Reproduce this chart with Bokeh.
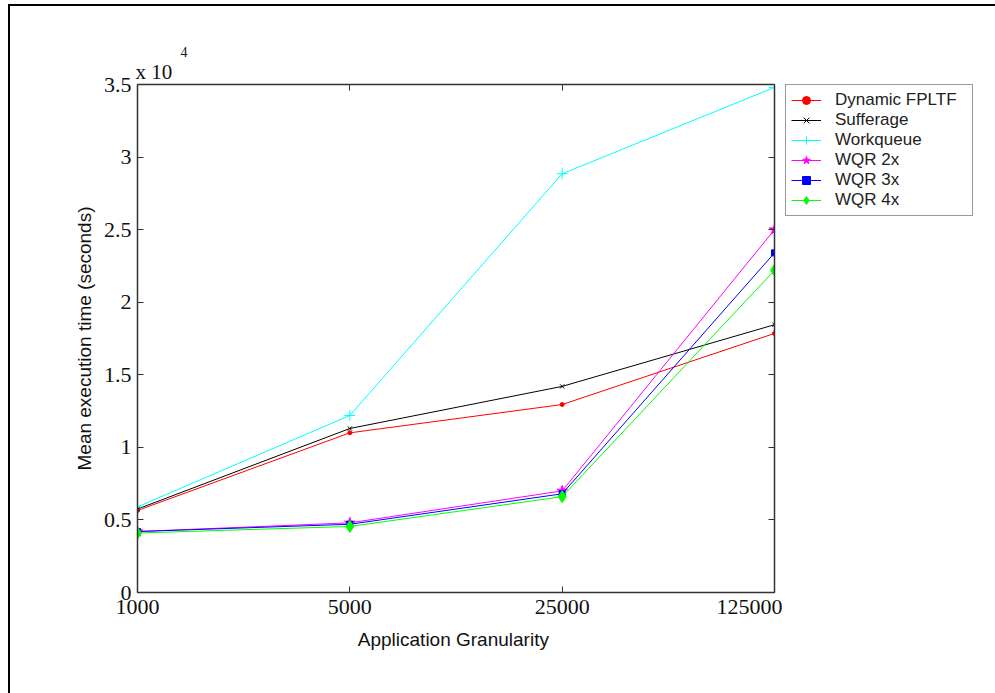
from bokeh.plotting import figure
from bokeh.layouts import row
from bokeh.models import (FixedTicker, LinearAxis, LogAxis, Legend, LegendItem,
                          Title, Range1d, InlineStyleSheet)
from bokeh.embed import file_html
from bokeh.resources import INLINE

granularity = [1000, 5000, 25000, 125000]
x_tick_labels = ["1000", "5000", "25000", "125000"]
y_ticks = [0, 5000, 10000, 15000, 20000, 25000, 30000, 35000]
y_tick_labels = ["0", "0.5", "1", "1.5", "2", "2.5", "3", "3.5"]

dynamic_fpltf = [5650, 11000, 12950, 17850]
sufferage = [5750, 11300, 14200, 18450]
workqueue = [5900, 12200, 28850, 34800]
wqr_2x = [4200, 4800, 7000, 25000]
wqr_3x = [4200, 4700, 6800, 23400]
wqr_4x = [4100, 4550, 6600, 22200]

series_names = ["Dynamic FPLTF", "Sufferage", "Workqueue", "WQR 2x", "WQR 3x", "WQR 4x"]
series_values = [dynamic_fpltf, sufferage, workqueue, wqr_2x, wqr_3x, wqr_4x]
series_colors = ["#ff0000", "#000000", "#00ffff", "#ff00ff", "#0000ff", "#00ff00"]
series_markers = ["circle", "x", "cross", "star", "square", "diamond"]
series_sizes = [4, 6, 11, 11, 6, 12]

SERIF = "Liberation Serif"
SANS = "Liberation Sans"

p = figure(frame_width=637, frame_height=508, x_axis_type="log",
           x_range=Range1d(1000, 125000), y_range=Range1d(0, 35000),
           output_backend="svg", toolbar_location=None,
           min_border_left=137, min_border_right=8,
           min_border_top=84, min_border_bottom=101)
p.background_fill_color = "white"
p.border_fill_color = "white"
p.border_fill_alpha = 0
p.outline_line_color = None
p.xgrid.visible = False
p.ygrid.visible = False
p.stylesheets = [InlineStyleSheet(css=(
    ":host { position: relative; overflow: visible; }"
    ":host::after { content: ''; position: absolute; left: 8px; top: 4px;"
    " width: 990px; height: 700px; border-left: 2px solid black;"
    " border-top: 2px solid black; pointer-events: none; z-index: 5; }"))]

for vals, col, mk, sz in zip(series_values, series_colors, series_markers, series_sizes):
    p.line(granularity, vals, line_color=col, line_width=1)
    p.scatter(granularity, vals, marker=mk, size=sz, line_color=col,
              fill_color=col, line_width=1)


def style_axis(ax, labels=True):
    ax.axis_line_color = "#333333"
    ax.axis_line_width = 1.5
    ax.major_tick_line_color = "#333333"
    ax.major_tick_in = 6
    ax.major_tick_out = 0
    ax.minor_tick_in = 0
    ax.minor_tick_out = 0
    ax.major_label_text_font = SERIF
    ax.major_label_text_font_size = "22px"
    ax.major_label_text_color = "#111111"
    if not labels:
        ax.major_label_text_alpha = 0
        ax.major_label_text_font_size = "1px"


xb = p.xaxis[0]
xb.ticker = FixedTicker(ticks=granularity)
xb.major_label_overrides = {g: s for g, s in zip(granularity, x_tick_labels)}
style_axis(xb)
xb.major_label_standoff = 7
xb.axis_label = "Application  Granularity"
xb.axis_label_text_font = SANS
xb.axis_label_text_font_size = "19px"
xb.axis_label_text_font_style = "normal"
xb.axis_label_text_color = "#111111"
xb.axis_label_standoff = 12

yl = p.yaxis[0]
yl.ticker = FixedTicker(ticks=y_ticks)
yl.major_label_overrides = {t: s for t, s in zip(y_ticks, y_tick_labels)}
style_axis(yl)
yl.major_label_standoff = 6
yl.axis_label = "Mean execution time (seconds)"
yl.axis_label_text_font = SANS
yl.axis_label_text_font_size = "19px"
yl.axis_label_text_font_style = "normal"
yl.axis_label_text_color = "#111111"
yl.axis_label_standoff = 6

top_ax = LogAxis(ticker=FixedTicker(ticks=granularity))
style_axis(top_ax, labels=False)
top_ax.major_label_overrides = {g: " " for g in granularity}
top_ax.major_label_standoff = 0
p.add_layout(top_ax, "above")
right_ax = LinearAxis(ticker=FixedTicker(ticks=y_ticks))
style_axis(right_ax, labels=False)
right_ax.major_label_overrides = {t: " " for t in y_ticks}
right_ax.major_label_standoff = 0
p.add_layout(right_ax, "right")

# exponent label as stacked titles above the frame
t_base = Title(text="x 10", align="left", offset=-2, text_font=SERIF,
               text_font_size="21px", text_font_style="normal",
               text_color="#111111", standoff=2)
t_exp = Title(text="4", align="left", offset=43, text_font=SERIF,
              text_font_size="14px", text_font_style="normal",
              text_color="#111111", standoff=0)
p.add_layout(t_base, "above")
p.add_layout(t_exp, "above")

# legend panel (separate figure, its frame aligned with the axes box);
# its renderers carry the same data, which lies outside this panel's ranges
lf = figure(width=213, height=693, x_range=Range1d(0, 1), y_range=Range1d(0, 1),
            output_backend="svg", toolbar_location=None,
            min_border_left=0, min_border_right=0,
            min_border_top=0, min_border_bottom=0)
lf.axis.visible = False
lf.grid.visible = False
lf.outline_line_color = None
lf.background_fill_alpha = 0
lf.border_fill_alpha = 0

items = []
for name, vals, col, mk, sz in zip(series_names, series_values, series_colors,
                                   series_markers, series_sizes):
    r1 = lf.line(granularity, vals, line_color=col, line_width=1)
    r2 = lf.scatter(granularity, vals, marker=mk, size=sz, line_color=col,
                    fill_color=col, line_width=1)
    items.append(LegendItem(label=name, renderers=[r1, r2]))

legend = Legend(items=items, location=(3, 376), margin=0, padding=5,
                spacing=0, label_height=20, glyph_height=20, glyph_width=30,
                label_standoff=14, label_width=132, label_text_font=SANS,
                label_text_font_size="17px", label_text_color="#222222",
                border_line_color="#333333", border_line_width=1.5,
                background_fill_color="white")
lf.add_layout(legend, "center")

layout = row(p, lf, spacing=0)
open("out.html", "w").write(file_html(layout, INLINE))
